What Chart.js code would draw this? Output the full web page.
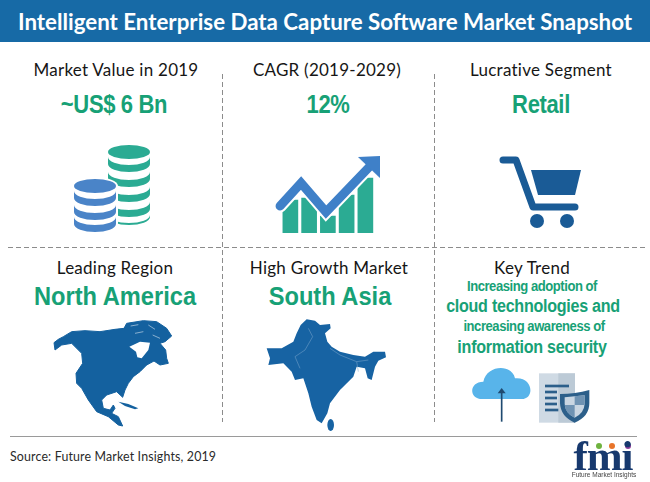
<!DOCTYPE html>
<html>
<head>
<meta charset="utf-8">
<script src="https://cdn.jsdelivr.net/npm/chart.js@4/dist/chart.umd.min.js"></script>
<style>
    html, body { margin: 0; padding: 0; background: #fff; }
    #page { position: relative; width: 650px; height: 482px; overflow: hidden; background: #fff; }
    #page > * { position: absolute; }
    .t { white-space: nowrap; text-align: center; transform: translate(-50%, -50%); }
    .head { font: 17px Lato, sans-serif; color: #161616; letter-spacing: 0.25px; }
    .val { font: bold 25px "Liberation Sans", sans-serif; color: #17a176; letter-spacing: -0.4px; transform: translate(-50%, -50%) scaleX(0.88); }
    .big { font: bold 26px "Liberation Sans", sans-serif; color: #17a176; transform: translate(-50%, -50%) scaleX(0.91); }
    .small { font: bold 14.5px "Liberation Sans", sans-serif; color: #17a176; letter-spacing: -0.5px; transform: translate(-50%, -50%) scaleX(0.9); }
    .mid { font: bold 17.5px "Liberation Sans", sans-serif; color: #17a176; letter-spacing: -0.3px; transform: translate(-50%, -50%) scaleX(0.92); }
    #chart-box { left: 270px; top: 150px; width: 120px; height: 83px; }
</style>
</head>
<body>
<div id="page">
    <div style="left:0;top:0;width:650px;height:42px;background:#176aa6"></div>
    <div class="t" style="left:325px;top:21px;font:bold 22.3px Lato,sans-serif;color:#fff">Intelligent Enterprise Data Capture Software Market Snapshot</div>

    <div class="t head" style="left:116px;top:69px">Market Value in 2019</div>
    <div class="t head" style="left:327px;top:69px">CAGR (2019-2029)</div>
    <div class="t head" style="left:541px;top:69px">Lucrative Segment</div>
    <div class="t val" style="left:114px;top:104px">~US$ 6 Bn</div>
    <div class="t val" style="left:328px;top:104px">12%</div>
    <div class="t val" style="left:541px;top:104px">Retail</div>

    <div class="t head" style="left:115px;top:267px">Leading Region</div>
    <div class="t head" style="left:329px;top:267px">High Growth Market</div>
    <div class="t head" style="left:532px;top:267px">Key Trend</div>
    <div class="t big" style="left:115px;top:296px">North America</div>
    <div class="t big" style="left:330px;top:296px">South Asia</div>
    <div class="t small" style="left:532px;top:286px">Increasing adoption of</div>
    <div class="t mid" style="left:533px;top:306px">cloud technologies and</div>
    <div class="t small" style="left:534px;top:326px">increasing awareness of</div>
    <div class="t mid" style="left:532px;top:347px">information security</div>

    <!-- dashed dividers and source rule -->
    <svg style="left:0;top:0" width="650" height="482">
        <g stroke="#8c8c8c" stroke-width="1" stroke-dasharray="5 3" fill="none">
            <line x1="8" y1="247.5" x2="645" y2="247.5"/>
            <line x1="222.5" y1="74" x2="222.5" y2="422"/>
            <line x1="434.5" y1="74" x2="434.5" y2="422"/>
        </g>
        <line x1="10" y1="436.5" x2="637" y2="436.5" stroke="#9a9a9a"/>
    </svg>

    <!-- coin stacks -->
    <svg style="left:0;top:0" width="650" height="482">
        <defs>
            <path id="band" d="M-21,0 A21,8 0 0 0 21,0 V7 A21,8 0 0 1 -21,7 Z"/>
        </defs>
        <g fill="#2bab93" transform="translate(129,0)">
            <ellipse cx="0" cy="152" rx="21" ry="7"/>
            <use href="#band" y="157"/><use href="#band" y="172"/><use href="#band" y="187"/><use href="#band" y="202"/>
            <path d="M-21,215 A21,8 0 0 0 21,215 V217 A21,8 0 0 1 -21,217 Z"/>
        </g>
        <g fill="#4a84c8" transform="translate(95,0)">
            <ellipse cx="0" cy="186" rx="23" ry="9" fill="#fff"/>
            <path d="M-23,186 H23 V232 H-23 Z" fill="#fff"/>
            <ellipse cx="0" cy="186" rx="21" ry="7"/>
            <use href="#band" y="191"/><use href="#band" y="205"/><use href="#band" y="217"/>
        </g>
    </svg>

    <!-- cart -->
    <svg style="left:0;top:0" width="650" height="482">
        <path d="M503,160 H516 L533,207 H575" fill="none" stroke="#1a5b96" stroke-width="7" stroke-linecap="round" stroke-linejoin="round"/>
        <path d="M531,170 H581 L575,195 H538 Z" fill="#1a5b96"/>
        <circle cx="537" cy="221" r="7" fill="#1a5b96"/>
        <circle cx="567" cy="221" r="7" fill="#1a5b96"/>
    </svg>

    <!-- North America -->
    <svg style="left:0;top:300px" width="220" height="182" viewBox="0 0 660 546">
        <path fill="#14619f" stroke="#14619f" stroke-width="3" stroke-linejoin="round" d="M162,128 L175,118 L190,110 L215,95 L255,92 L300,95 L345,88 L372,85 L380,70 L430,62 L470,65 L500,85 L515,108 L495,125 L480,130 L497,150 L500,175 L505,190 L480,195 L462,183 L440,195 L420,215 L400,230 L385,250 L375,270 L368,292 L350,275 L320,285 L305,300 L310,325 L330,330 L340,315 L345,325 L335,340 L355,350 L368,378 L355,375 L325,350 L290,335 L265,300 L245,265 L230,250 L228,220 L248,190 L245,160 L215,130 L185,135 L165,150 Z"/>
        <path fill="#fff" d="M388,140 L420,125 L450,128 L445,150 L425,175 L412,172 L408,155 Z"/>
        <g fill="none" stroke="#fff" stroke-width="1.5">
            <path d="M392,78 L415,74"/>
            <path d="M445,75 L465,88"/>
            <path d="M405,100 L430,95"/>
            <path d="M458,105 L480,115"/>
        </g>
        <path fill="#14619f" d="M355,305 L385,312 L415,325 L405,328 L375,318 Z"/>
    </svg>

    <!-- South Asia -->
    <svg style="left:240px;top:300px" width="180" height="140" viewBox="0 0 540 420">
        <path fill="#1763a3" d="M182,75 L200,58 L225,62 L240,75 L270,72 L272,85 L255,100 L262,125 L275,140 L300,155 L340,165 L375,170 L400,155 L435,155 L438,172 L415,182 L405,200 L395,240 L383,235 L375,205 L350,200 L340,230 L300,270 L270,310 L262,340 L245,370 L230,360 L215,320 L205,280 L190,235 L165,240 L155,215 L130,190 L85,195 L90,175 L80,145 L125,145 L160,125 L170,100 Z"/>
        <ellipse cx="272" cy="375" rx="10" ry="18" fill="#1763a3"/>
        <path fill="none" stroke="#7fa9cf" stroke-width="1.5" d="M205,85 L218,110 L195,150 L165,170 L180,205 M270,145 L300,165 L350,185 L385,180 M350,185 L355,215"/>
    </svg>

    <!-- cloud and document -->
    <svg style="left:430px;top:240px" width="220" height="242" viewBox="0 0 660 726">
        <path fill="#58b4ea" d="M150,477 C115,470 120,425 160,425 C170,375 245,370 255,415 C310,410 315,477 275,477 Z"/>
        <path fill="none" stroke="#1f4a70" stroke-width="5" d="M215,545 V450"/>
        <path fill="#1f4a70" d="M203,460 L215,444 L227,460 Z"/>
        <rect x="327" y="400" width="108" height="148" fill="#cfdae4"/>
        <rect x="385" y="400" width="50" height="148" fill="#bccad6"/>
        <g fill="#2c5f8a">
            <rect x="345" y="434" width="72" height="8"/>
            <rect x="345" y="452" width="36" height="8"/>
            <rect x="345" y="470" width="36" height="8"/>
            <rect x="345" y="488" width="36" height="8"/>
            <rect x="345" y="506" width="40" height="8"/>
        </g>
        <path fill="#2c5f8a" d="M390,462 Q435,462 478,450 V490 Q478,530 434,548 Q392,530 390,490 Z"/>
        <path fill="#c9d6e2" d="M404,472 L464,466 V492 Q462,520 434,533 Q406,520 404,492 Z"/>
        <path fill="#6f93b3" d="M434,469 L464,466 V495 H434 Z M404,495 H434 V533 Q406,520 404,495 Z"/>
    </svg>

    <div id="chart-box"><canvas id="growth" width="120" height="83"></canvas></div>

    <div style="left:10px;top:449px;font:12.4px Lato,sans-serif;color:#2a2a2a;letter-spacing:0.15px;white-space:nowrap">Source: Future Market Insights, 2019</div>

    <!-- logo -->
    <svg style="left:0;top:0" width="650" height="482">
        <circle cx="599" cy="446" r="3" fill="#6fb33f"/>
        <circle cx="612" cy="446" r="3" fill="#e8742a"/>
        <circle cx="628" cy="446" r="3" fill="#8e3c9b"/>
    </svg>
    <div class="t" style="left:603px;top:456px;font:bold 43px/24px 'Liberation Serif',serif;color:#17396e;letter-spacing:-1px">fmi</div>
    <div class="t" style="left:604px;top:474px;font:6.5px/7px 'Liberation Sans',sans-serif;color:#444">Future Market Insights</div>
</div>

<script>
const barCategories = ['1', '2', '3', '4', '5'];
const barValues = [33, 35, 17, 38, 55];
const arrowX = [-0.55, 0.57, 1.9, 4.41];
const arrowY = [27, 50, 21, 70];
const arrowTipX = [4.19];
const arrowTipY = [66];

function points(xs, ys) {
    return xs.map((x, i) => ({ x: x, y: ys[i] }));
}

// right angled head for the growth arrow
function makeArrowHead(size, color) {
    const c = document.createElement('canvas');
    c.width = size;
    c.height = size;
    const g = c.getContext('2d');
    g.fillStyle = color;
    g.beginPath();
    g.moveTo(0, 1);
    g.lineTo(size, 0);
    g.lineTo(size, size);
    g.closePath();
    g.fill();
    return c;
}

new Chart(document.getElementById('growth'), {
    data: {
        labels: barCategories,
        datasets: [
            {
                type: 'line',
                data: points(arrowX, arrowY),
                xAxisID: 'xArrow',
                borderColor: '#3f80c8',
                borderWidth: 9,
                borderCapStyle: 'round',
                borderJoinStyle: 'miter',
                pointRadius: 0,
                clip: false,
                order: 1
            },
            {
                type: 'line',
                data: points(arrowTipX, arrowTipY),
                xAxisID: 'xArrow',
                showLine: false,
                pointStyle: makeArrowHead(22, '#3f80c8'),
                pointRadius: 11,
                clip: false,
                order: 0
            },
            {
                type: 'line',
                data: points(arrowX, arrowY),
                xAxisID: 'xArrow',
                borderColor: '#ffffff',
                borderWidth: 13,
                borderCapStyle: 'round',
                pointRadius: 0,
                clip: false,
                order: 2
            },
            {
                type: 'bar',
                data: barValues,
                xAxisID: 'x',
                backgroundColor: '#2bab93',
                grouped: false,
                barThickness: 15,
                order: 3
            }
        ]
    },
    options: {
        responsive: false,
        animation: false,
        // the point overflow would otherwise shrink the plot area
        layout: { autoPadding: false, padding: { left: 11, right: 15.25, top: 0, bottom: 0 } },
        plugins: { legend: { display: false }, tooltip: { enabled: false }, title: { display: false } },
        scales: {
            x: { display: false, type: 'category', offset: true },
            xArrow: { display: false, type: 'linear', min: -0.5, max: 4.5 },
            y: { display: false, min: 0, max: 83 }
        }
    }
});
</script>
</body>
</html>
